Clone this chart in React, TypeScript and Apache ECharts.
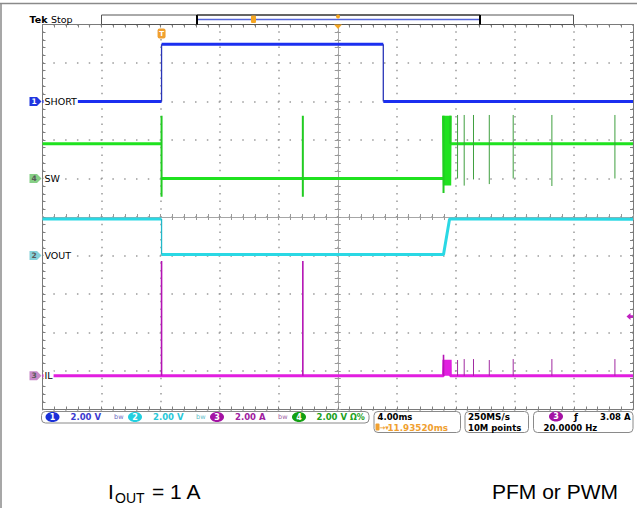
import React, { useEffect, useRef } from 'react';
import * as echarts from 'echarts';

const W = 637;
const H = 508;

// ---- horizontal (time) scale: ms, trigger at 0, 4 ms/div, 10 div ----
const timeMin = -8.065;
const timeMax = 31.935;

// ---- channels ----
const channelNames = ['SHORT', 'SW', 'VOUT', 'IL'];
const channelNumbers = ['1', '4', '2', '3'];
const channelScales = [2, 2, 2, 2]; // V/div or A/div
const channelOffsets = [3, 1, -1, -4.125]; // ground level, divisions from centre
const channelColors = ['#1b2ff0', '#1fe21f', '#2ad8e4', '#e21ee0'];
const channelEdgeColors = ['#2a35b8', '#22cc22', '#22b8c8', '#b414b4'];
const markerColors = ['#2036e0', '#86cf86', '#86d2da', '#c88ac8'];

// ---- waveforms [ms, value] ----
const shortTrace = [[timeMin, 0], [0, 0], [0, 2.97], [15.02, 2.97], [15.02, 0], [timeMax, 0]];

const burstTimes = [19.13, 19.16, 19.19, 19.22, 19.25, 19.28, 19.31, 19.34, 19.37, 19.4, 19.43, 19.46, 19.49, 19.52, 19.55];
const swBurst = [3.26, -0.36, 3.26, -0.36, 3.26, -0.36, 3.26, -0.36, 3.26, -0.36, 3.26, -0.36, 3.26, -0.36, 3.26];
const ilBurst = [0.83, 0, 0.83, 0, 0.83, 0, 0.83, 0, 0.83, 0, 0.83, 0, 0.83, 0, 0.83];

const swBefore = [[timeMin, 1.8], [0, 1.8], [0, 3.26], [0, -0.95], [0, 0], [9.57, 0], [9.57, 3.26], [9.57, -0.95], [9.57, 0], [19.1, 0], [19.1, -0.75], [19.1, 3.26]];
const swAfter = [[19.56, 3.26], [19.56, 1.8], [timeMax, 1.8]];
const voutTrace = [[timeMin, 1.9], [0, 1.9], [0, 0.05], [19.1, 0.05], [19.51, 1.9], [timeMax, 1.88]];
const ilBefore = [[timeMin, 0], [0, 0], [0, 5.96], [0, 0], [9.57, 0], [9.57, 5.96], [9.57, 0], [19.1, 0], [19.1, 1.09], [19.1, 0]];
const ilAfter = [[19.56, 0], [timeMax, 0]];

const spikeTimes = [20.05, 20.5, 21.13, 22.2, 23.82, 26.44, 30.71];
const swSpikeTop = 3.3;
const swSpikeLows = [0, -0.37, -0.05, -0.29, 0, -0.39, 0];
const ilSpikePeaks = [0.82, 0.87, 0.87, 0.82, 0.87, 0.87, 0.87];

const triggerLevel = 3.08; // A on channel 3

// ---- layout ----
const gridLeft = 42.5;
const gridTop = 24.5;
const gridW = 590.5;
const gridH = 385;
const divW = gridW / 10;
const divH = gridH / 10;

function buildTrace(before: number[][], times: number[], vals: number[], after: number[][]) {
  return [...before, ...times.map((t, i) => [t, vals[i]]), ...after];
}

function splitRuns(pts: number[][], wantVertical: boolean) {
  const out: any[] = [];
  let last: number[] | null = null;
  for (let i = 0; i < pts.length - 1; i++) {
    const a = pts[i];
    const b = pts[i + 1];
    const vert = a[0] === b[0];
    if (vert !== wantVertical) continue;
    if (!last || last[0] !== a[0] || last[1] !== a[1]) {
      if (out.length) out.push(null);
      out.push(a);
    }
    out.push(b);
    last = b;
  }
  return out;
}

function spikes(times: number[], tops: number[], lows: number[]) {
  const out: any[] = [];
  times.forEach((t, i) => {
    out.push([t, tops[i]], [t, lows[i]], null);
  });
  return out;
}

const traces = [
  shortTrace,
  buildTrace(swBefore, burstTimes, swBurst, swAfter),
  voutTrace,
  buildTrace(ilBefore, burstTimes, ilBurst, ilAfter),
];

const groundY = (k: number) => gridTop + (5 - channelOffsets[k]) * divH;
const timeX = (t: number) => gridLeft + ((t - timeMin) / (timeMax - timeMin)) * gridW;

const SANS = '"DejaVu Sans", sans-serif';
const ARIAL = '"Liberation Sans", Arial, sans-serif';

function txt(x: number, y: number, text: string, o: any = {}) {
  return {
    type: 'text',
    x,
    y,
    z: 100,
    silent: true,
    style: {
      text,
      fill: o.fill || '#000',
      fontSize: o.size || 9,
      fontFamily: o.family || SANS,
      fontWeight: o.weight || 'normal',
      align: o.align || 'left',
      textAlign: o.align || 'left',
      verticalAlign: 'middle',
      textVerticalAlign: 'middle',
      backgroundColor: o.bg,
      padding: o.bg ? [1, 1, 0, 1] : undefined,
    },
  };
}

function oval(cx: number, cy: number, fill: string, label: string) {
  return [
    { type: 'ellipse', z: 100, silent: true, shape: { cx, cy, rx: 7, ry: 5 }, style: { fill } },
    txt(cx, cy, label, { fill: '#fff', size: 8, weight: 'bold', align: 'center' }),
  ];
}

function box(x: number, y: number, w: number, h: number) {
  return { type: 'rect', z: 99, silent: true, shape: { x, y, width: w, height: h, r: 4 }, style: { fill: 'none', stroke: '#8a8a8a', lineWidth: 1 } };
}

const tickStyle = { color: '#808080', width: 1 };
const centerTickStyle = { color: '#999', width: 1 };

function buildOption() {
  const series: any[] = [];
  traces.forEach((pts, k) => {
    series.push({
      type: 'line',
      xAxisIndex: 4,
      yAxisIndex: 4 + k,
      data: splitRuns(pts, false),
      showSymbol: false,
      symbol: 'none',
      connectNulls: false,
      clip: false,
      lineStyle: { color: channelColors[k], width: 3, cap: 'butt' },
      z: 3 + k,
    });
    series.push({
      type: 'line',
      xAxisIndex: 4,
      yAxisIndex: 4 + k,
      data: splitRuns(pts, true),
      showSymbol: false,
      symbol: 'none',
      connectNulls: false,
      clip: false,
      lineStyle: { color: channelEdgeColors[k], width: k === 1 ? 2 : k === 3 ? 1.6 : 1.3 },
      z: 3 + k,
    });
  });
  series.push({
    type: 'line',
    xAxisIndex: 4,
    yAxisIndex: 5,
    data: spikes(spikeTimes, spikeTimes.map(() => swSpikeTop), swSpikeLows),
    showSymbol: false,
    symbol: 'none',
    connectNulls: false,
    lineStyle: { color: '#3f9f3f', width: 1 },
    z: 4,
  });
  series.push({
    type: 'line',
    xAxisIndex: 4,
    yAxisIndex: 7,
    data: spikes(spikeTimes, ilSpikePeaks, spikeTimes.map(() => 0)),
    showSymbol: false,
    symbol: 'none',
    connectNulls: false,
    lineStyle: { color: '#a02aa0', width: 1 },
    z: 6,
  });

  const divAxisBase = {
    type: 'value',
    min: -5,
    max: 5,
    interval: 1,
    gridIndex: 0,
    axisLabel: { show: false },
    splitLine: { show: false },
    axisTick: { show: true, inside: true, length: 3, lineStyle: tickStyle },
    minorTick: { show: true, splitNumber: 5, length: 3, lineStyle: tickStyle },
  };
  const centerAxis = {
    axisTick: { show: true, inside: false, length: 3, lineStyle: centerTickStyle },
    minorTick: { show: true, splitNumber: 5, length: 3, lineStyle: centerTickStyle },
  };
  const centerLine = { show: true, onZero: true, onZeroAxisIndex: 0, lineStyle: { color: '#a6a6a6', width: 1 } };
  const borderLine = { show: true, onZero: false, lineStyle: { color: '#7a7a7a', width: 1 } };

  const xAxis: any[] = [
    {
      ...divAxisBase,
      position: 'bottom',
      axisLine: borderLine,
      splitLine: { show: true, lineStyle: { color: '#9a9a9a', width: 1.5, type: [1.5, divH / 5 - 1.5], dashOffset: 0.75 } },
    },
    { ...divAxisBase, position: 'top', axisLine: borderLine },
    { ...divAxisBase, ...centerAxis, position: 'bottom', axisLine: centerLine },
    { ...divAxisBase, ...centerAxis, position: 'top', axisLine: centerLine },
    { type: 'value', min: timeMin, max: timeMax, show: false, gridIndex: 0, axisLine: { onZero: false } },
  ];

  const yAxis: any[] = [
    {
      ...divAxisBase,
      position: 'left',
      axisLine: borderLine,
      splitLine: { show: true, lineStyle: { color: '#9a9a9a', width: 1.5, type: [1.5, divW / 5 - 1.5], dashOffset: 0.75 } },
    },
    { ...divAxisBase, position: 'right', axisLine: borderLine },
    { ...divAxisBase, ...centerAxis, position: 'left', axisLine: centerLine },
    { ...divAxisBase, ...centerAxis, position: 'right', axisLine: centerLine },
    ...channelNames.map((_, k) => ({
      type: 'value',
      show: false,
      gridIndex: 0,
      min: (-5 - channelOffsets[k]) * channelScales[k],
      max: (5 - channelOffsets[k]) * channelScales[k],
      axisLine: { onZero: false },
    })),
  ];

  const graphic: any[] = [];
  // outer frame
  graphic.push({ type: 'line', silent: true, shape: { x1: 0, y1: 3.5, x2: W, y2: 3.5 }, style: { stroke: '#8a8a8a', lineWidth: 1.5 } });
  graphic.push({ type: 'line', silent: true, shape: { x1: 1, y1: 3, x2: 1, y2: H }, style: { stroke: '#8a8a8a', lineWidth: 1.5 } });
  // header
  graphic.push(txt(29.5, 19, 'Tek', { size: 9.5, weight: 'bold' }));
  graphic.push(txt(51, 19.5, 'Stop', { size: 9.5 }));
  // record bar
  graphic.push({ type: 'rect', silent: true, z: 98, shape: { x: 101.5, y: 15, width: 472, height: 9.5 }, style: { fill: '#fff', stroke: '#555', lineWidth: 1 } });
  graphic.push({ type: 'line', silent: true, z: 99, shape: { x1: 197, y1: 19.5, x2: 480, y2: 19.5 }, style: { stroke: '#5565d8', lineWidth: 1.5 } });
  graphic.push({ type: 'line', silent: true, z: 99, shape: { x1: 197, y1: 15, x2: 197, y2: 24.5 }, style: { stroke: '#000', lineWidth: 2 } });
  graphic.push({ type: 'line', silent: true, z: 99, shape: { x1: 480, y1: 15, x2: 480, y2: 24.5 }, style: { stroke: '#000', lineWidth: 2 } });
  graphic.push({ type: 'line', silent: true, z: 99, shape: { x1: 197, y1: 15, x2: 480, y2: 15 }, style: { stroke: '#222', lineWidth: 1 } });
  graphic.push({ type: 'rect', silent: true, z: 100, shape: { x: 251, y: 15.5, width: 5, height: 7.5, r: 1 }, style: { fill: '#f5a623' } });
  graphic.push({ type: 'circle', silent: true, z: 100, shape: { cx: 338, cy: 16.5, r: 2 }, style: { fill: '#f5a623' } });
  graphic.push({ type: 'polygon', silent: true, z: 100, shape: { points: [[334, 24.5], [342, 24.5], [338, 29]] }, style: { fill: '#f5a623' } });
  // trigger position marker
  const tx = timeX(0);
  graphic.push({ type: 'rect', silent: true, z: 100, shape: { x: tx - 4, y: 28.5, width: 8, height: 10, r: 2 }, style: { fill: '#f0a030' } });
  graphic.push(txt(tx, 33.5, 'T', { fill: '#fff', size: 7, weight: 'bold', align: 'center' }));
  // trigger level arrow (channel 3)
  const tly = gridTop + (5 - (channelOffsets[3] + triggerLevel / channelScales[3])) * divH;
  graphic.push({ type: 'polygon', silent: true, z: 100, shape: { points: [[626.5, tly], [630.5, tly - 3.5], [630.5, tly - 1.2], [633, tly - 1.2], [633, tly + 1.2], [630.5, tly + 1.2], [630.5, tly + 3.5]] }, style: { fill: '#c020c0' } });
  // channel markers and labels
  channelNames.forEach((name, k) => {
    const y = groundY(k);
    graphic.push({ type: 'polygon', silent: true, z: 100, shape: { points: [[29.5, y - 4.5], [37, y - 4.5], [41.5, y], [37, y + 4.5], [29.5, y + 4.5]] }, style: { fill: markerColors[k] } });
    graphic.push(txt(34, y, channelNumbers[k], { fill: k === 0 ? '#fff' : '#5a5a5a', size: 7.5, weight: 'bold', align: 'center' }));
    graphic.push(txt(43.5, y, name, { size: 9.5, bg: '#fff' }));
  });

  // status bar
  const r1 = 417;
  graphic.push(box(41.5, 411.5, 327.5, 11.5));
  graphic.push(...oval(52.5, r1, '#1a30d8', '1'));
  graphic.push(txt(70.5, r1, '2.00 V', { fill: '#3a3ad0', size: 8.5, weight: 'bold' }));
  graphic.push(txt(114, r1, 'bw', { fill: '#6a6ac0', size: 6.5 }));
  graphic.push(...oval(135, r1, '#22d0e0', '2'));
  graphic.push(txt(153, r1, '2.00 V', { fill: '#28c8d8', size: 8.5, weight: 'bold' }));
  graphic.push(txt(196, r1, 'bw', { fill: '#60c0c8', size: 6.5 }));
  graphic.push(...oval(217, r1, '#a412a4', '3'));
  graphic.push(txt(235, r1, '2.00 A', { fill: '#a020a0', size: 8.5, weight: 'bold' }));
  graphic.push(txt(278, r1, 'bw', { fill: '#a060a0', size: 6.5 }));
  graphic.push(...oval(299, r1, '#12a012', '4'));
  graphic.push(txt(316.5, r1, '2.00 V', { fill: '#20a020', size: 8.5, weight: 'bold' }));
  graphic.push(txt(350, r1, 'Ω%', { fill: '#20a020', size: 8, weight: 'bold' }));

  const r2 = 427.5;
  graphic.push(box(374, 411.5, 86.5, 21));
  graphic.push(txt(377.5, 416.5, '4.00ms', { size: 8.5, weight: 'bold' }));
  graphic.push({ type: 'rect', silent: true, z: 100, shape: { x: 375.5, y: 423.5, width: 4, height: 7, r: 1 }, style: { fill: '#f0a030' } });
  graphic.push(txt(379.5, r2, '→▾', { fill: '#f0a030', size: 7, weight: 'bold' }));
  graphic.push(txt(387.5, r2, '11.93520ms', { fill: '#f0a030', size: 8.8, weight: 'bold' }));

  graphic.push(box(465, 411.5, 63.5, 21));
  graphic.push(txt(468, 416.5, '250MS/s', { size: 8.8, weight: 'bold' }));
  graphic.push(txt(468, r2, '10M points', { size: 8.5, weight: 'bold' }));

  graphic.push(box(533.5, 411.5, 99.5, 21));
  graphic.push(...oval(556, 416.5, '#a412a4', '3'));
  graphic.push(txt(574, 416.5, 'ƒ', { size: 9, weight: 'bold' }));
  graphic.push(txt(630.5, 416.5, '3.08 A', { size: 8.5, weight: 'bold', align: 'right' }));
  graphic.push(txt(543.5, r2, '20.0000 Hz', { size: 8.5, weight: 'bold' }));

  // caption
  graphic.push(txt(108, 491.5, 'I', { size: 21, family: ARIAL }));
  graphic.push(txt(115, 498, 'OUT', { size: 14, family: ARIAL }));
  graphic.push(txt(152, 491.5, '= 1 A', { size: 21, family: ARIAL }));
  graphic.push(txt(492, 491.5, 'PFM or PWM', { size: 21, family: ARIAL }));

  return {
    animation: false,
    backgroundColor: '#fff',
    grid: { left: gridLeft, top: gridTop, width: gridW, height: gridH, show: false, containLabel: false, outerBoundsMode: 'none' },
    xAxis,
    yAxis,
    series,
    graphic,
  };
}

export default function App() {
  const ref = useRef<HTMLDivElement>(null);
  useEffect(() => {
    if (!ref.current) return;
    const chart = echarts.init(ref.current, null, { renderer: 'svg', width: W, height: H });
    chart.setOption(buildOption() as any);
    return () => chart.dispose();
  }, []);
  return <div ref={ref} style={{ position: 'absolute', left: 0, top: 0, width: W, height: H, background: '#fff' }} />;
}
